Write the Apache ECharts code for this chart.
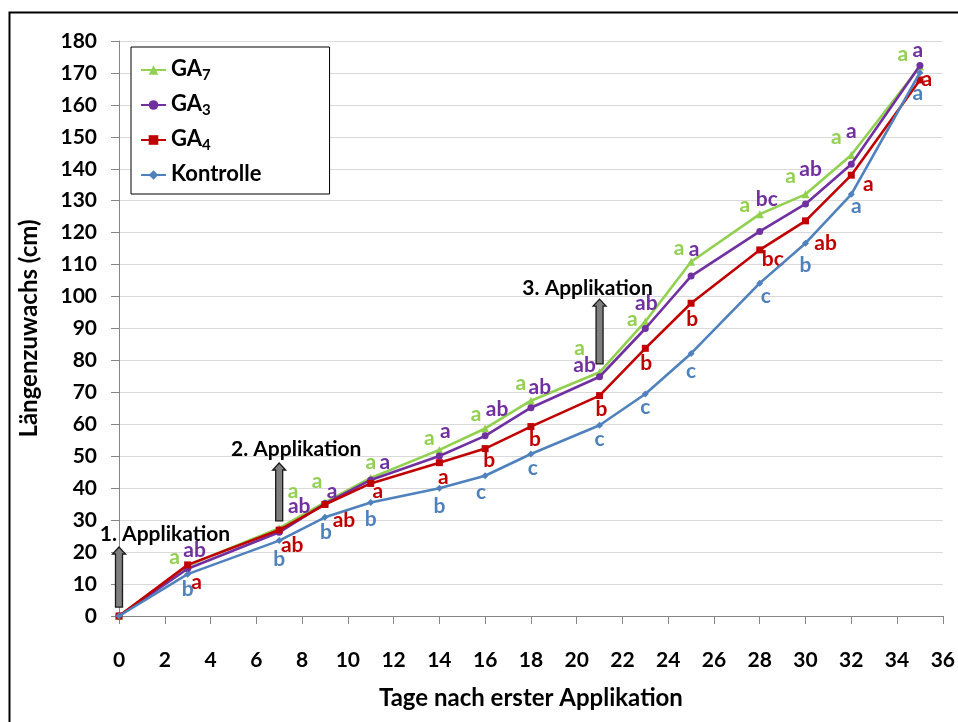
<!DOCTYPE html>
<html>
<head>
<meta charset="utf-8">
<script src="https://cdn.jsdelivr.net/npm/echarts@6/dist/echarts.min.js"></script>
<style>
  html, body { margin: 0; padding: 0; background: #fff; }
  #chart { width: 958px; height: 722px; }
</style>
</head>
<body>
<div id="chart"></div>
<script>
// Days after the first application
const days = [0, 3, 7, 9, 11, 14, 16, 18, 21, 23, 25, 28, 30, 32, 35];

// Length growth (cm) per treatment
const ga7 = [0, 15.8, 27.5, 35.6, 43.2, 52.0, 58.7, 67.4, 76.3, 92.2, 110.9, 125.8, 132.0, 144.3, 172.0];
const ga3 = [0, 14.8, 26.2, 35.2, 42.6, 50.1, 56.4, 65.2, 74.9, 90.0, 106.4, 120.4, 129.0, 141.4, 172.3];
const ga4 = [0, 16.0, 26.9, 34.9, 41.5, 48.0, 52.4, 59.3, 69.0, 83.8, 97.9, 114.6, 123.7, 138.0, 167.8];
const kontrolle = [0, 13.1, 23.6, 30.9, 35.5, 40.0, 43.9, 50.7, 59.7, 69.5, 82.2, 104.2, 116.7, 132.0, 170.1];

// Significance letters per point
const ga7Letters = ['', 'a', 'a', 'a', 'a', 'a', 'a', 'a', 'a', 'a', 'a', 'a', 'a', 'a', 'a'];
const ga3Letters = ['', 'ab', 'ab', 'a', 'a', 'a', 'ab', 'ab', 'ab', 'ab', 'a', 'bc', 'ab', 'a', 'a'];
const ga4Letters = ['', 'a', 'ab', 'ab', 'a', 'a', 'b', 'b', 'b', 'b', 'b', 'bc', 'ab', 'a', 'a'];
const kontrolleLetters = ['', 'b', 'b', 'b', 'b', 'b', 'c', 'c', 'c', 'c', 'c', 'c', 'b', 'a', 'a'];

// Application events: day, arrow foot and tip (cm)
const applicationNames = ['1. Applikation', '2. Applikation', '3. Applikation'];
const applicationDays = [0, 7, 21];
const arrowFrom = [2.8, 29.8, 78.9];
const arrowTo = [21.6, 47.9, 99.2];

// Axis ticks
const xTicks = { min: 0, max: 36, step: 2 };
const yTicks = { min: 0, max: 180, step: 10 };

// Pixel nudges for the letter labels, so they sit beside their markers
const letterNudge = {
  GA7: [[0,0],[-13,-8],[14,-37],[-8,-21],[0,-16],[-10,-12],[-9,-14],[-10,-17],[-20,-24],[-13,-2],[-12,-14],[-15,-9],[-15,-18],[-15,-18],[-17,-12]],
  GA3: [[0,0],[7,-18],[20,-26],[7,-12],[14,-18],[6,-25],[12,-27],[9,-20],[-15,-12],[1,-25],[3,-27],[7,-32],[5,-35],[0,-33],[-2,-15]],
  GA4: [[0,0],[9,17],[13,15],[19,16],[7,8],[4,15],[4,12],[4,13],[2,14],[1,15],[1,16],[13,9],[20,22],[17,9],[7,-1]],
  Kontrolle: [[0,0],[0,15],[0,19],[1,15],[0,17],[0,18],[-4,16],[2,14],[0,14],[0,13],[0,18],[6,13],[0,22],[5,12],[-2,21]]
};
// Pixel nudges for the application captions, relative to the arrow tip
const captionNudge = [[46, -13], [17, -14], [-12, -11]];

const FONT = 'Lato';

function lineSeries(name, values, letters, color, symbol, size, z) {
  return {
    name: name,
    type: 'line',
    z: z,
    symbol: symbol,
    symbolSize: size,
    lineStyle: { color: color, width: 2.6 },
    itemStyle: { color: color },
    label: {
      show: true,
      position: 'inside',
      color: color,
      fontFamily: FONT,
      fontWeight: 'bold',
      fontSize: 21,
      align: 'center',
      verticalAlign: 'middle'
    },
    emphasis: { disabled: true },
    data: days.map((d, i) => ({
      value: [d, values[i]],
      label: {
        show: letters[i] !== '',
        formatter: letters[i],
        offset: letterNudge[name][i]
      }
    }))
  };
}

const chart = echarts.init(document.getElementById('chart'), null, { renderer: 'canvas' });

const option = {
  animation: false,
  backgroundColor: '#ffffff',
  textStyle: { fontFamily: FONT },
  grid: { left: 119, right: 15, top: 41, bottom: 106, containLabel: false },
  graphic: [{
    type: 'rect',
    left: 7, top: 10,
    shape: { width: 980, height: 740 },
    style: { fill: 'none', stroke: '#000', lineWidth: 2 },
    silent: true
  }],
  legend: {
    left: 131,
    top: 47,
    orient: 'vertical',
    data: ['GA7', 'GA3', 'GA4', 'Kontrolle'],
    backgroundColor: '#fff',
    borderColor: '#000',
    borderWidth: 1,
    borderRadius: 0,
    padding: [11, 68, 9, 9],
    itemGap: 10,
    itemWidth: 25,
    itemHeight: 12,
    formatter: function (name) {
      if (name.indexOf('GA') === 0) {
        return '{m|GA}{s|' + name.slice(2) + '}';
      }
      return '{m|' + name + '}';
    },
    textStyle: {
      color: '#000',
      fontFamily: FONT,
      fontWeight: 'bold',
      fontSize: 22,
      rich: {
        m: { fontFamily: FONT, fontWeight: 'bold', fontSize: 22, lineHeight: 24, verticalAlign: 'top', color: '#000' },
        s: { fontFamily: FONT, fontWeight: 'bold', fontSize: 15, lineHeight: 15, padding: [10, 0, 0, 0], verticalAlign: 'top', color: '#000' }
      }
    }
  },
  xAxis: {
    type: 'value',
    min: xTicks.min,
    max: xTicks.max,
    interval: xTicks.step,
    name: 'Tage nach erster Applikation',
    nameLocation: 'middle',
    nameGap: 70,
    nameTextStyle: { color: '#000', fontFamily: FONT, fontWeight: 'bold', fontSize: 24 },
    axisLine: { show: true, lineStyle: { color: '#868686', width: 1 } },
    axisTick: { show: true, length: 8, inside: false, lineStyle: { color: '#868686' } },
    axisLabel: { color: '#000', fontFamily: FONT, fontWeight: 'bold', fontSize: 21, margin: 34 },
    splitLine: { show: false }
  },
  yAxis: {
    type: 'value',
    min: yTicks.min,
    max: yTicks.max,
    interval: yTicks.step,
    name: 'Längenzuwachs (cm)',
    nameLocation: 'middle',
    nameGap: 78,
    nameRotate: 90,
    nameTextStyle: { color: '#000', fontFamily: FONT, fontWeight: 'bold', fontSize: 24 },
    axisLine: { show: true, lineStyle: { color: '#868686', width: 1 } },
    axisTick: { show: true, length: 8, lineStyle: { color: '#868686' } },
    axisLabel: { color: '#000', fontFamily: FONT, fontWeight: 'bold', fontSize: 21, margin: 22 },
    splitLine: { show: true, lineStyle: { color: '#d9d9d9', width: 1 } }
  },
  series: [
    lineSeries('GA7', ga7, ga7Letters, '#92D050', 'triangle', 8, 3),
    lineSeries('GA3', ga3, ga3Letters, '#7030A0', 'circle', 7, 4),
    lineSeries('GA4', ga4, ga4Letters, '#C00000', 'rect', 7, 5),
    lineSeries('Kontrolle', kontrolle, kontrolleLetters, '#4F81BD', 'diamond', 7, 6),
    {
      // Upward arrows marking the application dates, with captions
      type: 'custom',
      z: 10,
      silent: true,
      data: applicationDays.map((d, i) => [d, arrowFrom[i], arrowTo[i], i]),
      renderItem: function (params, api) {
        const foot = api.coord([api.value(0), api.value(1)]);
        const tip = api.coord([api.value(0), api.value(2)]);
        const idx = api.value(3);
        const x = foot[0];
        const shaft = 3.5, head = 6.5, headH = 7;
        const pts = [
          [x - shaft, foot[1]],
          [x - shaft, tip[1] + headH],
          [x - head, tip[1] + headH],
          [x, tip[1]],
          [x + head, tip[1] + headH],
          [x + shaft, tip[1] + headH],
          [x + shaft, foot[1]]
        ];
        const nudge = captionNudge[idx];
        return {
          type: 'group',
          children: [
            {
              type: 'polygon',
              shape: { points: pts },
              style: { fill: '#7f7f7f', stroke: '#1a1a1a', lineWidth: 1.3 }
            },
            {
              type: 'text',
              style: {
                x: x + nudge[0],
                y: tip[1] + nudge[1],
                text: applicationNames[idx],
                fill: '#000',
                font: 'bold 21px ' + FONT,
                align: 'center',
                verticalAlign: 'middle'
              }
            }
          ]
        };
      }
    }
  ]
};

chart.setOption(option);
</script>
</body>
</html>
